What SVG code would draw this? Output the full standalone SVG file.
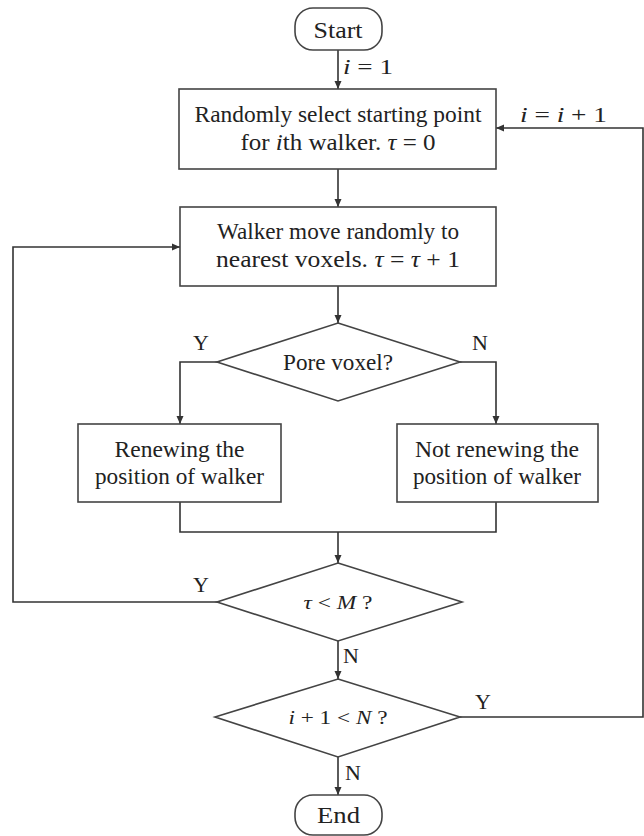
<svg xmlns="http://www.w3.org/2000/svg" width="644" height="836" viewBox="0 0 644 836">
<defs>
<marker id="arr" markerWidth="8" markerHeight="8" refX="8" refY="4" orient="auto" markerUnits="userSpaceOnUse">
<path d="M0,0.5 L8,4 L0,7.5 z" fill="#333"/>
</marker>
<style>
.shape{fill:#fff;stroke:#444;stroke-width:1.6}
.conn{fill:none;stroke:#333;stroke-width:1.6}
.t{font-family:"Liberation Serif","Times New Roman",serif;font-size:23px;fill:#222;text-anchor:middle}
.s{font-family:"Liberation Serif","Times New Roman",serif;font-size:19px;fill:#222;text-anchor:middle}
.lab{font-family:"Liberation Serif","Times New Roman",serif;font-size:22px;fill:#222}
.m{font-family:"Liberation Serif","Times New Roman",serif;font-size:21px;fill:#222}
.i{font-style:italic}
</style>
</defs>
<rect width="644" height="836" fill="#fff"/>
<g id="connectors">
<line class="conn" x1="338" y1="50" x2="338" y2="89" marker-end="url(#arr)"/>
<line class="conn" x1="338" y1="169" x2="338" y2="207" marker-end="url(#arr)"/>
<line class="conn" x1="338" y1="286" x2="338" y2="323" marker-end="url(#arr)"/>
<polyline class="conn" points="217,362 180,362 180,424" marker-end="url(#arr)"/>
<polyline class="conn" points="460,362 496,362 496,424" marker-end="url(#arr)"/>
<polyline class="conn" points="180,502 180,532 496,532 496,502"/>
<line class="conn" x1="338" y1="532" x2="338" y2="563" marker-end="url(#arr)"/>
<polyline class="conn" points="217,602 13,602 13,247 180,247" marker-end="url(#arr)"/>
<line class="conn" x1="338" y1="641" x2="338" y2="679" marker-end="url(#arr)"/>
<polyline class="conn" points="460,717 643,717 643,128 496,128" marker-end="url(#arr)"/>
<line class="conn" x1="338" y1="757" x2="338" y2="795" marker-end="url(#arr)"/>
<text class="m" x="343" y="74" textLength="50" lengthAdjust="spacingAndGlyphs"><tspan class="i">i</tspan> = 1</text>
<text class="m" x="520" y="122" textLength="87" lengthAdjust="spacingAndGlyphs"><tspan class="i">i</tspan> = <tspan class="i">i</tspan> + 1</text>
<text class="lab" x="193" y="350">Y</text>
<text class="lab" x="472" y="350">N</text>
<text class="lab" x="193" y="592">Y</text>
<text class="lab" x="343" y="663">N</text>
<text class="lab" x="475" y="709">Y</text>
<text class="lab" x="345" y="780">N</text>
</g>
<g id="start">
<rect class="shape" x="295" y="8" width="87" height="42" rx="18"/>
<text class="t" x="338" y="38" textLength="49" lengthAdjust="spacingAndGlyphs">Start</text>
</g>
<g id="init">
<rect class="shape" x="179" y="89" width="317" height="80"/>
<text class="t" x="338" y="122" textLength="287" lengthAdjust="spacingAndGlyphs">Randomly select starting point</text>
<text class="t" x="338" y="150" textLength="195" lengthAdjust="spacingAndGlyphs">for <tspan class="i">i</tspan>th walker. <tspan class="i">τ</tspan> = 0</text>
</g>
<g id="move">
<rect class="shape" x="180" y="207" width="316" height="79"/>
<text class="t" x="338" y="239" textLength="242" lengthAdjust="spacingAndGlyphs">Walker move randomly to</text>
<text class="t" x="338" y="267" textLength="244" lengthAdjust="spacingAndGlyphs">nearest voxels. <tspan class="i">τ</tspan> = <tspan class="i">τ</tspan> + 1</text>
</g>
<g id="pore">
<polygon class="shape" points="338,323 460,362 338,401 217,362"/>
<text class="t" x="338" y="370" textLength="110" lengthAdjust="spacingAndGlyphs">Pore voxel?</text>
</g>
<g id="renew">
<rect class="shape" x="78" y="424" width="203" height="78"/>
<text class="t" x="179.5" y="457" textLength="130" lengthAdjust="spacingAndGlyphs">Renewing the</text>
<text class="t" x="179.5" y="484" textLength="169" lengthAdjust="spacingAndGlyphs">position of walker</text>
</g>
<g id="notrenew">
<rect class="shape" x="397" y="424" width="201" height="78"/>
<text class="t" x="497" y="457" textLength="164" lengthAdjust="spacingAndGlyphs">Not renewing the</text>
<text class="t" x="497" y="484" textLength="168" lengthAdjust="spacingAndGlyphs">position of walker</text>
</g>
<g id="tauM">
<polygon class="shape" points="338,563 462,602 338,641 217,602"/>
<text class="s" x="338" y="609" textLength="69" lengthAdjust="spacingAndGlyphs"><tspan class="i">τ</tspan> &lt; <tspan class="i">M</tspan> ?</text>
</g>
<g id="iN">
<polygon class="shape" points="338,679 460,717 338,757 215,717"/>
<text class="s" x="338" y="724" textLength="99" lengthAdjust="spacingAndGlyphs"><tspan class="i">i</tspan> + 1 &lt; <tspan class="i">N</tspan> ?</text>
</g>
<g id="end">
<rect class="shape" x="295" y="795" width="87" height="40" rx="18"/>
<text class="t" x="338.5" y="823" textLength="43" lengthAdjust="spacingAndGlyphs">End</text>
</g>
</svg>
